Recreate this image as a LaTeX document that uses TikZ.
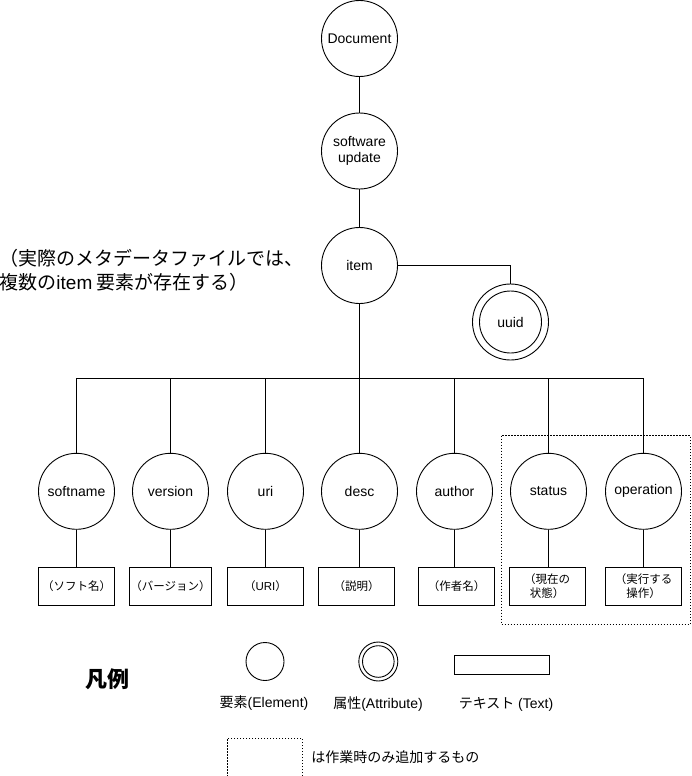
\documentclass[tikz,border=0pt]{standalone}
\usepackage{fontspec}
\setmainfont{Liberation Sans}
\newfontfamily\jp{Noto Sans CJK JP}
\newfontfamily\lat{Liberation Sans}
\begin{document}
\begin{tikzpicture}[x=1pt,y=-1pt,line width=0.9pt,
  elem/.style={circle,draw,minimum size=76pt,inner sep=0pt,align=center,font=\fontsize{14}{16.5}\selectfont},
  txtbox/.style={rectangle,draw,minimum width=76pt,minimum height=38pt,inner sep=1pt,align=center,font=\jp\fontsize{11.5}{13.5}\selectfont},
  legcirc/.style={circle,draw,minimum size=38pt,inner sep=0pt},
  dotline/.style={dash pattern=on 1.5pt off 1.5pt},
  plain/.style={inner sep=0pt,align=left}]
\useasboundingbox (0,0) rectangle (691,776);

% top chain
\node[elem] (doc) at (359.5,38.5) {Document};
\node[elem] (sw) at (359.5,151) {software\\update};
\node[elem] (item) at (359.5,265.5) {item};
\node[elem] (uuid) at (510.5,322) {uuid};
\draw (uuid.center) circle[radius=31];

\draw (doc) -- (sw);
\draw (sw) -- (item);
\draw (item.east) -| (uuid.north);

% note
\node[plain,anchor=west,font=\jp\fontsize{19}{24}\selectfont] (note) at (-1,270)
  {（実際のメタデータファイルでは、\\複数の{\lat item} 要素が存在する）};

% children
\coordinate (bus) at (359.5,378.5);
\node[elem] (softname) at (76.5,491.3) {softname};
\node[elem] (version) at (170.5,491.3) {version};
\node[elem] (uri) at (265.5,491.3) {uri};
\node[elem] (desc) at (359.5,491.3) {desc};
\node[elem] (author) at (454.5,491.3) {author};
\node[elem] (status) at (548.5,491.3) {status};
\node[elem] (operation) at (643.5,491.3) {operation};

\draw (item) -- (bus);
\draw (softname.north) |- (bus) -| (operation.north);
\foreach \n in {version,uri,desc,author,status}
  \draw (\n.north) -- (\n.north |- bus);

% text boxes
\node[txtbox] (tsoftname) at (76.5,586) {（ソフト名）};
\node[txtbox] (tversion) at (170.5,586) {（バージョン）};
\node[txtbox] (turi) at (265.5,586) {（{\lat URI}）};
\node[txtbox] (tdesc) at (356.5,586) {（説明）};
\node[txtbox] (tauthor) at (456.5,586) {（作者名）};
\node[txtbox] (tstatus) at (547,586) {（現在の\\状態）};
\node[txtbox] (toperation) at (643.5,586) {（実行する\\操作）};
\foreach \n in {softname,version,uri,desc,author,status,operation}
  \draw (\n.south) -- (\n.south |- t\n.north);

% dashed group
\draw[dotline] (501.5,435.5) rectangle (690,624.5);

% legend
\node[plain,font=\jp\bfseries\fontsize{22}{24}\selectfont] (legend) at (107,679) {凡例};
\node[legcirc] (legElem) at (265,661.5) {};
\node[legcirc,minimum size=39pt] (legAttr) at (378.3,661.5) {};
\draw (legAttr.center) circle[radius=15.8];
\node[draw,minimum width=95pt,minimum height=19pt,inner sep=0pt] (legText) at (501.5,664.5) {};
\node[plain,font=\fontsize{14}{16}\selectfont] (lblElem) at (264,703) {{\jp 要素}(Element)};
\node[plain,font=\fontsize{14}{16}\selectfont] (lblAttr) at (378,704) {{\jp 属性}(Attribute)};
\node[plain,font=\fontsize{14}{16}\selectfont] (lblText) at (506,704) {{\jp テキスト} (Text)};

\node[draw,dotline,minimum width=75pt,minimum height=38pt,inner sep=0pt] (legDash) at (264.5,757) {};
\node[plain,anchor=west,font=\jp\fontsize{14}{16}\selectfont] (lblDash) at (311,757) {は作業時のみ追加するもの};
\end{tikzpicture}
\end{document}
